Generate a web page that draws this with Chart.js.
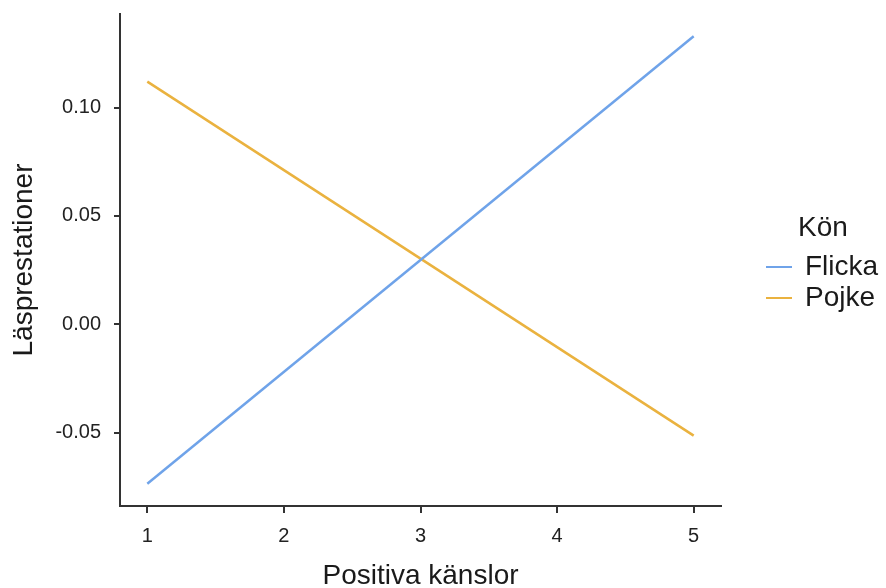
<!DOCTYPE html>
<html>
<head>
<meta charset="utf-8">
<script src="https://cdn.jsdelivr.net/npm/chart.js@4/dist/chart.umd.min.js"></script>
<style>
  html, body { margin: 0; padding: 0; background: #fff; }
</style>
</head>
<body>
<canvas id="chart" width="886" height="588" style="width:886px; height:588px;"></canvas>
<script>
const xValues = [1, 5];
const flickaValues = [-0.0736, 0.1329];
const pojkeValues = [0.1120, -0.0514];
const seriesNames = ['Flicka', 'Pojke'];
const seriesColors = ['#6FA3E9', '#EAB23F'];
const xTicks = [1, 2, 3, 4, 5];
const yTicks = [-0.05, 0, 0.05, 0.1];
const legendTitle = 'Kön';
const xTitle = 'Positiva känslor';
const yTitle = 'Läsprestationer';

const FONT = "'Liberation Sans', Arial, Helvetica, sans-serif";
const AXIS = '#333333';

const toPoints = values => values.map((y, i) => ({ x: xValues[i], y: y }));

const legendPlugin = {
  id: 'sideLegend',
  afterDraw(chart) {
    const ctx = chart.ctx;
    ctx.save();
    ctx.fillStyle = '#1a1a1a';
    ctx.font = `28px ${FONT}`;
    ctx.textBaseline = 'middle';
    ctx.textAlign = 'left';
    ctx.fillText(legendTitle, 798, 228);
    chart.data.datasets.forEach((ds, i) => {
      const y = 267 + i * 31;
      ctx.strokeStyle = ds.borderColor;
      ctx.lineWidth = 2;
      ctx.beginPath();
      ctx.moveTo(766, y);
      ctx.lineTo(792, y);
      ctx.stroke();
      ctx.fillText(ds.label, 805, y);
    });
    ctx.restore();
  },
};

new Chart(document.getElementById('chart').getContext('2d'), {
  type: 'line',
  data: {
    datasets: [
      {
        label: seriesNames[0],
        data: toPoints(flickaValues),
        borderColor: seriesColors[0],
        borderWidth: 2.5,
        pointRadius: 0,
        fill: false,
      },
      {
        label: seriesNames[1],
        data: toPoints(pojkeValues),
        borderColor: seriesColors[1],
        borderWidth: 2.5,
        pointRadius: 0,
        fill: false,
      },
    ],
  },
  options: {
    responsive: false,
    animation: false,
    devicePixelRatio: 1,
    layout: { padding: { left: 0, top: 14, right: 165, bottom: 0 } },
    plugins: {
      legend: { display: false },
      tooltip: { enabled: false },
    },
    scales: {
      x: {
        type: 'linear',
        min: 0.8,
        max: 5.2,
        afterBuildTicks: scale => {
          scale.ticks = xTicks.map(v => ({ value: v }));
        },
        afterFit: scale => {
          scale.height = 82;
          scale.paddingLeft = 0;
          scale.paddingRight = 0;
        },
        border: { display: true, color: AXIS, width: 2 },
        grid: { drawOnChartArea: false, color: AXIS, lineWidth: 2, tickLength: 7 },
        ticks: {
          color: '#222',
          font: { family: FONT, size: 20 },
          padding: 11,
          maxRotation: 0,
          callback: v => String(v),
        },
        title: {
          display: true,
          text: xTitle,
          color: '#1a1a1a',
          font: { family: FONT, size: 28, lineHeight: 0.85 },
          padding: { top: 0, bottom: 0 },
        },
      },
      y: {
        type: 'linear',
        min: -0.0839,
        max: 0.1432,
        afterBuildTicks: scale => {
          scale.ticks = yTicks.map(v => ({ value: v }));
        },
        afterFit: scale => {
          scale.width = 120;
          scale.paddingTop = 0;
          scale.paddingBottom = 0;
        },
        border: { display: true, color: AXIS, width: 2 },
        grid: { drawOnChartArea: false, color: AXIS, lineWidth: 2, tickLength: 6 },
        ticks: {
          color: '#222',
          font: { family: FONT, size: 20 },
          padding: 13,
          callback: v => v.toFixed(2),
        },
        title: {
          display: true,
          text: yTitle,
          color: '#1a1a1a',
          font: { family: FONT, size: 28, lineHeight: 0.85 },
          padding: { top: 12, bottom: 0 },
        },
      },
    },
  },
  plugins: [legendPlugin],
});
</script>
</body>
</html>
